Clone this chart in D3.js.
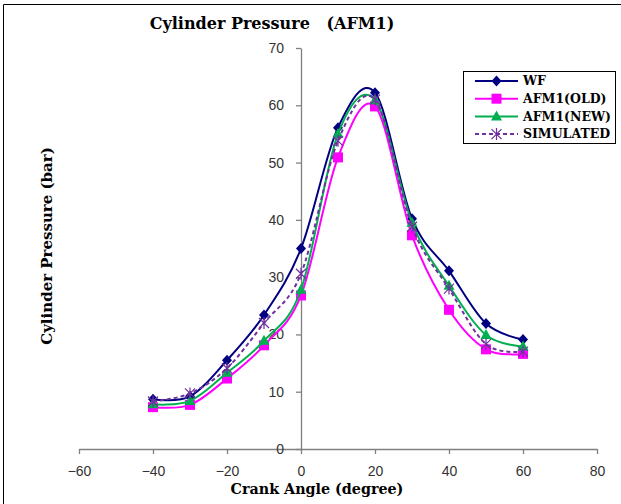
<!DOCTYPE html>
<html>
<head>
<meta charset="utf-8">
<script src="https://cdn.jsdelivr.net/npm/d3@7"></script>
<style>
  html, body { margin: 0; padding: 0; background: #fff; }
  svg { display: block; }
</style>
</head>
<body>
<svg id="chart" width="621" height="504"></svg>
<script>
// Crank angle positions (degree)
const crankAngle = [-40, -30, -20, -10, 0, 10, 20, 30, 40, 50, 60];

// Cylinder pressure (bar) for each case
const wf        = [8.7, 9.2, 15.5, 23.4, 35.0, 56.1, 62.2, 40.2, 31.1, 21.9, 19.1];
const afm1Old   = [7.3, 7.7, 12.3, 18.1, 26.8, 50.9, 59.8, 37.3, 24.3, 17.4, 16.6];
const afm1New   = [7.8, 8.4, 13.3, 18.9, 27.8, 55.0, 60.9, 39.5, 28.5, 19.9, 17.9];
const simulated = [8.3, 9.7, 14.1, 22.0, 30.6, 53.8, 61.0, 38.8, 28.0, 18.3, 17.0];

// Axis ticks
const xTicks = [-60, -40, -20, 0, 20, 40, 60, 80];
const yTicks = [0, 10, 20, 30, 40, 50, 60, 70];

const seriesNames = ["WF", "AFM1(OLD)", "AFM1(NEW)", "SIMULATED"];
const seriesValues = [wf, afm1Old, afm1New, simulated];

const styles = [
  { color: "#000080", marker: "diamond",  dash: null },
  { color: "#FF00FF", marker: "square",   dash: null },
  { color: "#00B050", marker: "triangle", dash: null },
  { color: "#7030A0", marker: "star",     dash: "4,3" }
];

const svg = d3.select("#chart");
const W = 621, H = 504;

// Outer frame (only the top and left edges fall inside the canvas)
svg.append("path")
  .attr("d", `M3.5,${H} V4.5 H${W}`)
  .attr("fill", "none")
  .attr("stroke", "#000")
  .attr("stroke-width", 1);

const x = d3.scaleLinear().domain([-60, 80]).range([79, 597]);
const y = d3.scaleLinear().domain([0, 70]).range([449, 48]);

const axisColor = "#808080";
const tickFont = "'Liberation Sans', Arial, sans-serif";

// X axis along the bottom (y = 0)
const gx = svg.append("g")
  .attr("transform", `translate(0,${y(0)})`)
  .call(d3.axisBottom(x).tickValues(xTicks).tickSize(5).tickPadding(12).tickSizeOuter(0));

// Y axis through x = 0
const gy = svg.append("g")
  .attr("transform", `translate(${x(0)},0)`)
  .call(d3.axisLeft(y).tickValues(yTicks).tickSize(5).tickPadding(12).tickSizeOuter(0));

[gx, gy].forEach(g => {
  g.select(".domain").attr("stroke", axisColor).attr("stroke-width", 1.3);
  g.selectAll(".tick line").attr("stroke", axisColor).attr("stroke-width", 1.3);
  g.selectAll(".tick text")
    .attr("fill", "#333")
    .style("font-family", tickFont)
    .style("font-size", "14px");
});

// Series lines with smoothing
const line = d3.line()
  .x((d, i) => x(crankAngle[i]))
  .y(d => y(d))
  .curve(d3.curveCardinal.tension(0));

function drawMarker(g, type, cx, cy, color) {
  if (type === "diamond") {
    g.append("path")
      .attr("d", `M${cx},${cy - 5.5} L${cx + 5},${cy} L${cx},${cy + 5.5} L${cx - 5},${cy} Z`)
      .attr("fill", color);
  } else if (type === "square") {
    g.append("rect")
      .attr("x", cx - 5).attr("y", cy - 5)
      .attr("width", 10).attr("height", 10)
      .attr("fill", color);
  } else if (type === "triangle") {
    g.append("path")
      .attr("d", `M${cx},${cy - 6} L${cx + 5.5},${cy + 4} L${cx - 5.5},${cy + 4} Z`)
      .attr("fill", color);
  } else if (type === "star") {
    const r = 5;
    g.append("path")
      .attr("d", `M${cx - r},${cy - r} L${cx + r},${cy + r} M${cx - r},${cy + r} L${cx + r},${cy - r} M${cx},${cy - r - 1} L${cx},${cy + r + 1}`)
      .attr("stroke", color)
      .attr("stroke-width", 1.2)
      .attr("fill", "none");
  }
}

seriesValues.forEach((vals, s) => {
  const st = styles[s];
  const g = svg.append("g");
  g.append("path")
    .datum(vals)
    .attr("d", line)
    .attr("fill", "none")
    .attr("stroke", st.color)
    .attr("stroke-width", 2)
    .attr("stroke-dasharray", st.dash);
  vals.forEach((v, i) => drawMarker(g, st.marker, x(crankAngle[i]), y(v), st.color));
});

const serif = "'DejaVu Serif', 'Liberation Serif', serif";

// Chart title
svg.append("text")
  .attr("x", 272).attr("y", 29)
  .attr("text-anchor", "middle")
  .style("font-family", serif)
  .style("font-weight", "bold")
  .style("font-size", "16px")
  .attr("xml:space", "preserve")
  .text("Cylinder Pressure   (AFM1)");

// Axis titles
svg.append("text")
  .attr("x", 317).attr("y", 494)
  .attr("text-anchor", "middle")
  .style("font-family", serif)
  .style("font-weight", "bold")
  .style("font-size", "14.3px")
  .text("Crank Angle (degree)");

svg.append("text")
  .attr("transform", "translate(52,246) rotate(-90)")
  .attr("text-anchor", "middle")
  .style("font-family", serif)
  .style("font-weight", "bold")
  .style("font-size", "15px")
  .text("Cylinder Pressure (bar)");

// Legend
const legend = svg.append("g");
legend.append("rect")
  .attr("x", 463.5).attr("y", 71.5)
  .attr("width", 152).attr("height", 72)
  .attr("fill", "#fff")
  .attr("stroke", "#000")
  .attr("stroke-width", 1);

seriesNames.forEach((name, s) => {
  const st = styles[s];
  const ly = 81 + s * 17.7;
  legend.append("line")
    .attr("x1", 475).attr("x2", 518)
    .attr("y1", ly).attr("y2", ly)
    .attr("stroke", st.color)
    .attr("stroke-width", 2)
    .attr("stroke-dasharray", st.dash);
  drawMarker(legend, st.marker, 496.5, ly, st.color);
  legend.append("text")
    .attr("x", 523).attr("y", ly)
    .attr("dy", "0.35em")
    .style("font-family", serif)
    .style("font-weight", "bold")
    .style("font-size", "12.5px")
    .text(name);
});
</script>
</body>
</html>
